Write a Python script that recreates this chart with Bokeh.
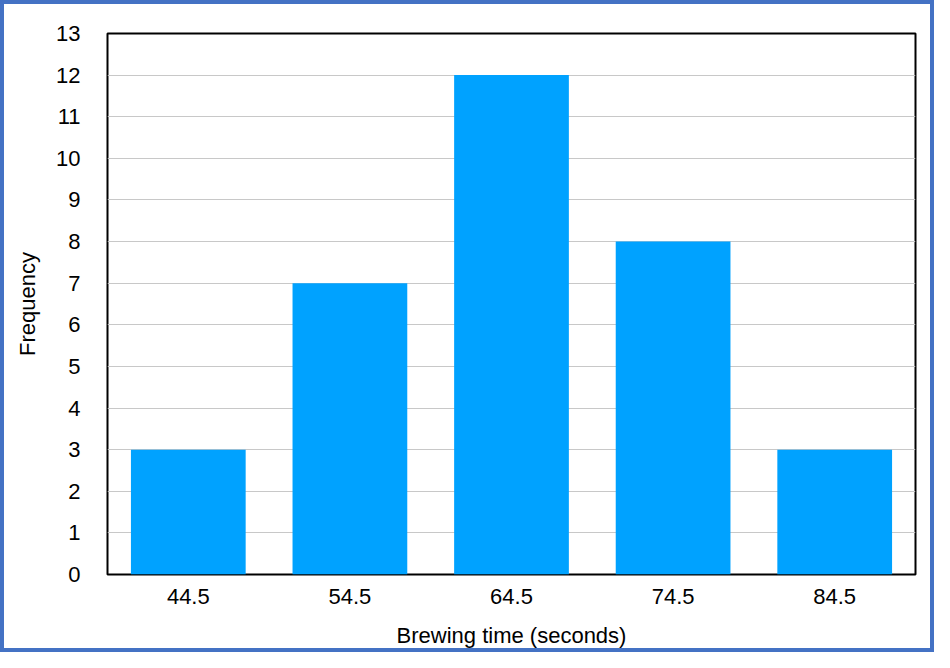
from bokeh.plotting import figure
from bokeh.models import FactorRange, Range1d, FixedTicker
from bokeh.embed import file_html
from bokeh.resources import INLINE

# Data
bins = ["44.5", "54.5", "64.5", "74.5", "84.5"]
freq = [3, 7, 12, 8, 3]
y_ticks = list(range(0, 14))

FONT = "Liberation Sans"

p = figure(
    width=934, height=652,
    x_range=FactorRange(*bins), y_range=Range1d(0, 13),
    output_backend="svg", toolbar_location=None,
    min_border_left=107, min_border_right=19,
    min_border_top=33, min_border_bottom=78,
    background_fill_color="white", border_fill_color=None,
)

p.vbar(x=bins, top=freq, width=0.71, fill_color="#00A2FF", line_color=None)

# grid
p.xgrid.grid_line_color = None
p.ygrid.grid_line_color = "#c8c8c8"
p.ygrid.grid_line_width = 1
p.yaxis.ticker = FixedTicker(ticks=y_ticks)

# frame
p.outline_line_color = "black"
p.outline_line_width = 2
p.outline_line_alpha = 1

for ax in (p.xaxis[0], p.yaxis[0]):
    ax.axis_line_color = None
    ax.major_tick_line_color = None
    ax.minor_tick_line_color = None
    ax.major_label_text_font = FONT
    ax.major_label_text_font_size = "22px"
    ax.major_label_text_color = "black"
    ax.axis_label_text_font = FONT
    ax.axis_label_text_font_size = "22px"
    ax.axis_label_text_font_style = "normal"
    ax.axis_label_text_color = "black"

p.yaxis.major_label_standoff = 21
p.yaxis.axis_label = "Frequency"
p.yaxis.axis_label_standoff = 13

p.xaxis.major_label_standoff = 8
p.xaxis.axis_label = "Brewing time (seconds)"
p.xaxis.axis_label_standoff = 16

# outer blue border of the picture
p.styles = {
    "outline": "4px solid #4472C4",
    "outline-offset": "-4px",
    "background-color": "white",
}

open("out.html", "w").write(file_html(p, INLINE))
